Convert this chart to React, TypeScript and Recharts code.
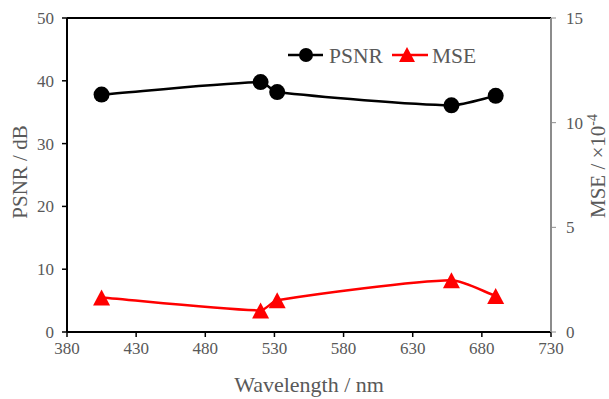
import { LineChart, Line, XAxis, YAxis, ReferenceLine } from "recharts";

const wavelengths = [405, 520, 532, 658, 690];
const psnrValues = [37.8, 39.8, 38.2, 36.1, 37.6];
const mseValues = [1.65, 1.03, 1.52, 2.47, 1.72];

const xTicks = [380, 430, 480, 530, 580, 630, 680, 730];
const psnrTicks = [0, 10, 20, 30, 40, 50];
const mseTicks = [0, 5, 10, 15];

const FONT = "Liberation Serif";
const TEXT = "#595959";

const data = wavelengths.map((w, i) => ({
  wavelength: w,
  psnr: psnrValues[i],
  mse: mseValues[i],
}));

const tickStyle = { fill: TEXT, fontSize: 17, fontFamily: FONT };

// Smoothed line: cubic Bezier, tangent from neighbours, handle length tied to segment length
function smoothCurve(context: any) {
  let pts: [number, number][] = [];
  const dir = (a: [number, number], b: [number, number]) => {
    const dx = b[0] - a[0];
    const dy = b[1] - a[1];
    const len = Math.hypot(dx, dy) || 1;
    return [dx / len, dy / len];
  };
  return {
    areaStart() {},
    areaEnd() {},
    lineStart() {
      pts = [];
    },
    point(x: number, y: number) {
      pts.push([+x, +y]);
    },
    lineEnd() {
      if (!pts.length) return;
      context.moveTo(pts[0][0], pts[0][1]);
      for (let i = 0; i < pts.length - 1; i++) {
        const p0 = pts[Math.max(i - 1, 0)];
        const p1 = pts[i];
        const p2 = pts[i + 1];
        const p3 = pts[Math.min(i + 2, pts.length - 1)];
        const d = Math.hypot(p2[0] - p1[0], p2[1] - p1[1]) * 0.22;
        const t1 = dir(p0, p2);
        const t2 = dir(p1, p3);
        context.bezierCurveTo(
          p1[0] + t1[0] * d,
          p1[1] + t1[1] * d,
          p2[0] - t2[0] * d,
          p2[1] - t2[1] * d,
          p2[0],
          p2[1]
        );
      }
    },
  };
}

function TriangleDot(props: any) {
  const { cx, cy, index } = props;
  if (cx == null || cy == null) return null;
  const w = 17;
  const h = 16;
  return (
    <polygon
      key={`tri-${index}`}
      points={`${cx},${cy - h / 2} ${cx + w / 2},${cy + h / 2} ${cx - w / 2},${cy + h / 2}`}
      fill="#ff0000"
    />
  );
}

function LeftLabel(props: any) {
  const { viewBox } = props;
  const cx = viewBox.x + 27;
  const cy = viewBox.y + viewBox.height / 2 - 3;
  return (
    <text
      x={cx}
      y={cy}
      transform={`rotate(-90 ${cx} ${cy})`}
      textAnchor="middle"
      fill={TEXT}
      fontSize={21}
      style={{ fontFamily: FONT }}
    >
      PSNR / dB
    </text>
  );
}

function RightLabel(props: any) {
  const { viewBox } = props;
  const cx = viewBox.x + 54;
  const cy = viewBox.y + viewBox.height / 2 - 9;
  return (
    <text
      x={cx}
      y={cy}
      transform={`rotate(-90 ${cx} ${cy})`}
      textAnchor="middle"
      fill={TEXT}
      fontSize={21}
      style={{ fontFamily: FONT }}
    >
      MSE / ×10
      <tspan dy={-8} fontSize={14}>-4</tspan>
    </text>
  );
}

function BottomLabel(props: any) {
  const { viewBox } = props;
  return (
    <text
      x={viewBox.x + viewBox.width / 2}
      y={392}
      textAnchor="middle"
      fill={TEXT}
      fontSize={22}
      style={{ fontFamily: FONT }}
    >
      Wavelength / nm
    </text>
  );
}

function LegendBox() {
  return (
    <svg
      width={200}
      height={30}
      style={{ position: "absolute", left: 285, top: 40 }}
    >
      <line x1={3} y1={15} x2={38} y2={15} stroke="#000" strokeWidth={2.5} />
      <circle cx={21} cy={15} r={7} fill="#000" />
      <text x={44} y={23} fill={TEXT} fontSize={21.5} style={{ fontFamily: FONT }}>
        PSNR
      </text>
      <line x1={107} y1={15} x2={143} y2={15} stroke="#ff0000" strokeWidth={2.5} />
      <polygon points="122,7 130,22 114,22" fill="#ff0000" />
      <text x={147} y={23} fill={TEXT} fontSize={21.5} style={{ fontFamily: FONT }}>
        MSE
      </text>
    </svg>
  );
}

export default function App() {
  return (
    <div style={{ position: "relative", width: 609, height: 399, fontFamily: FONT }}>
      <style>{`body { margin: 0; }`}</style>
      <LineChart
        width={609}
        height={399}
        data={data}
        margin={{ top: 18, right: 0, bottom: 0, left: 0 }}
      >
        <XAxis
          dataKey="wavelength"
          type="number"
          domain={[380, 730]}
          ticks={xTicks}
          height={67}
          tick={tickStyle}
          tickSize={5}
          tickMargin={5}
          axisLine={{ stroke: "#000", strokeWidth: 2 }}
          tickLine={{ stroke: "#000", strokeWidth: 1.5 }}
          label={<BottomLabel />}
        />
        <YAxis
          yAxisId="left"
          domain={[0, 50]}
          ticks={psnrTicks}
          width={67}
          tick={tickStyle}
          tickSize={5}
          tickMargin={8}
          axisLine={{ stroke: "#000", strokeWidth: 2 }}
          tickLine={{ stroke: "#000", strokeWidth: 1.5 }}
          label={<LeftLabel />}
        />
        <YAxis
          yAxisId="right"
          orientation="right"
          domain={[0, 15]}
          ticks={mseTicks}
          width={58}
          tick={tickStyle}
          tickSize={5}
          tickMargin={10}
          axisLine={{ stroke: "#8c8c8c", strokeWidth: 2 }}
          tickLine={{ stroke: "#8c8c8c", strokeWidth: 1 }}
          label={<RightLabel />}
        />
        <ReferenceLine yAxisId="left" y={50} stroke="#000" strokeWidth={2} />
        <Line
          yAxisId="left"
          type={smoothCurve as any}
          dataKey="psnr"
          stroke="#000"
          strokeWidth={2.5}
          dot={{ r: 8, fill: "#000", stroke: "none" }}
          isAnimationActive={false}
        />
        <Line
          yAxisId="right"
          type={smoothCurve as any}
          dataKey="mse"
          stroke="#ff0000"
          strokeWidth={2.5}
          dot={TriangleDot}
          isAnimationActive={false}
        />
      </LineChart>
      <LegendBox />
    </div>
  );
}
